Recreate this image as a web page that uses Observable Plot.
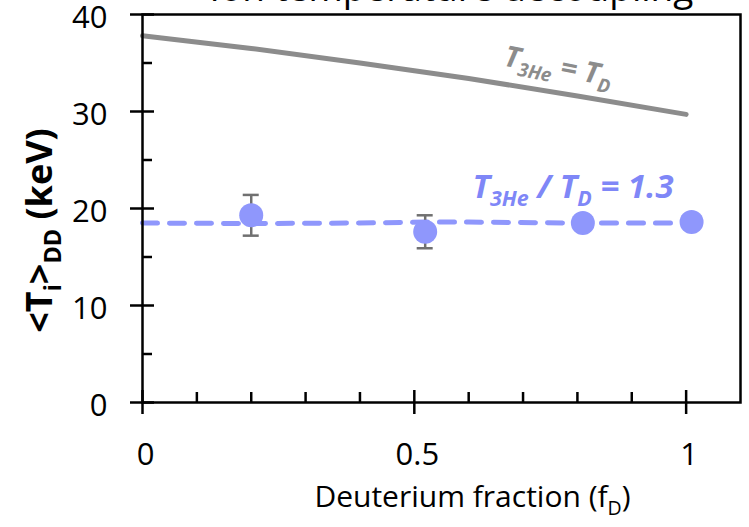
<!DOCTYPE html>
<html><head><meta charset="utf-8">
<script src="https://cdn.jsdelivr.net/npm/d3@7"></script>
<script src="https://cdn.jsdelivr.net/npm/@observablehq/plot@0.6"></script>
<style>html,body{margin:0;padding:0;background:#fff;overflow:hidden}</style>
</head><body><div id="chart"></div>
<script>
// Data
const fracGrid = [0, 0.2, 0.4, 0.5, 0.6, 0.8, 1.0];
const tiEqual = [37.8, 36.5, 35.0, 34.2, 33.4, 31.6, 29.7];      // T3He = TD curve
const fitFrac = [0, 0.2, 0.4, 0.52, 0.6, 0.81, 1.0];
const tiRatio = [18.5, 18.45, 18.5, 18.6, 18.6, 18.5, 18.5];     // T3He/TD = 1.3 curve
const measFrac = [0.2, 0.52, 0.81, 1.01];
const measTi = [19.3, 17.6, 18.5, 18.6];
const errLow = [17.2, 15.9, null, null];
const errHigh = [21.4, 19.3, null, null];
const xTicks = [0, 0.5, 1];
const xMinor = [0.1, 0.2, 0.3, 0.4, 0.6, 0.7, 0.8, 0.9];
const yTicks = [0, 10, 20, 30, 40];
const yMinor = [5, 15, 25, 35];
const titleText = "Ion temperature decoupling";
const xLabel = "Deuterium fraction (f_{D})";
const yLabel = "<T_{i}>_{DD} (keV)";
const labelEqual = "T_{3He} = T_{D}";
const labelRatio = "T_{3He} / T_{D} = 1.3";

const eqData = fracGrid.map((f, i) => ({f, t: tiEqual[i]}));
const ratioData = fitFrac.map((f, i) => ({f, t: tiRatio[i]}));
const meas = measFrac.map((f, i) => ({f, t: measTi[i], lo: errLow[i], hi: errHigh[i]}));
const errData = meas.filter(d => d.lo != null);

const blue = "#8f97fc";
const plot = Plot.plot({
  width: 749, height: 527,
  marginLeft: 142, marginRight: 9, marginTop: 14, marginBottom: 125,
  x: {domain: [0, 1.1], axis: null},
  y: {domain: [0, 40], axis: null},
  style: {fontFamily: "'Open Sans', sans-serif", background: "white", overflow: "visible", color: "black"},
  marks: [
    Plot.line(eqData, {x: "f", y: "t", stroke: "#8c8c8c", strokeWidth: 5}),
    Plot.line(ratioData, {x: "f", y: "t", stroke: blue, strokeWidth: 5, strokeDasharray: "15,12", strokeLinecap: "round"}),
    Plot.ruleX(errData, {x: "f", y1: "lo", y2: "hi", stroke: "#707070", strokeWidth: 2.5}),
    Plot.ruleY(errData, {y: "lo", x1: "f", x2: "f", insetLeft: -8, insetRight: -8, stroke: "#707070", strokeWidth: 2.5}),
    Plot.ruleY(errData, {y: "hi", x1: "f", x2: "f", insetLeft: -8, insetRight: -8, stroke: "#707070", strokeWidth: 2.5}),
    Plot.dot(meas, {x: "f", y: "t", r: 12, fill: blue, stroke: "none"}),
    Plot.frame({stroke: "black", strokeWidth: 2.5}),
    Plot.ruleX(xTicks, {x: d => d, y1: 0, y2: 0, insetTop: -12, insetBottom: -12, stroke: "black", strokeWidth: 2.5}),
    Plot.ruleX(xMinor, {x: d => d, y1: 0, y2: 0, insetTop: -10, insetBottom: 0, stroke: "black", strokeWidth: 2.5}),
    Plot.ruleY(yTicks, {y: d => d, x1: 0, x2: 0, insetLeft: -12, insetRight: -12, stroke: "black", strokeWidth: 2.5}),
    Plot.ruleY(yMinor, {y: d => d, x1: 0, x2: 0, insetLeft: 0, insetRight: -10, stroke: "black", strokeWidth: 2.5}),
    Plot.text(xTicks, {x: d => d, text: d => String(d), frameAnchor: "bottom", lineAnchor: "middle", dy: 53, dx: 3, fontSize: 31, fill: "black"}),
    Plot.text(yTicks, {y: d => d, text: d => String(d), frameAnchor: "left", textAnchor: "end", lineAnchor: "middle", dx: -35, dy: 3.5, fontSize: 31, fill: "black"}),
    Plot.text([xLabel], {frameAnchor: "bottom", textAnchor: "middle", lineAnchor: "middle", dx: 31, dy: 95, fontSize: 30, fill: "black"}),
    Plot.text([yLabel], {frameAnchor: "left", textAnchor: "middle", lineAnchor: "middle", rotate: -90, dx: -102, dy: 22, fontSize: 36, fontWeight: "bold", fill: "black"}),
    Plot.text([titleText], {frameAnchor: "top", textAnchor: "middle", lineAnchor: "middle", dx: 10, dy: -25, fontSize: 37, fill: "black"}),
    Plot.text([labelEqual], {x: 0.765, y: 34.6, text: d => d, rotate: 11, fontSize: 29, fontWeight: "bold", fontStyle: "italic", fill: "#8c8c8c"}),
    Plot.text([labelRatio], {x: 0.607, y: 22.2, text: d => d, textAnchor: "start", fontSize: 33, fontWeight: "bold", fontStyle: "italic", fill: "#7f87f7"})
  ]
});
document.getElementById("chart").appendChild(plot);

// Turn _{...} markers into subscript tspans
const NS = "http://www.w3.org/2000/svg";
plot.querySelectorAll("text").forEach(t => {
  const s = t.textContent;
  if (!s.includes("_{")) return;
  const fs = parseFloat(getComputedStyle(t).fontSize);
  const parts = s.split(/(_\{[^}]*\})/).filter(p => p.length);
  t.textContent = "";
  let shifted = false;
  parts.forEach(p => {
    const ts = document.createElementNS(NS, "tspan");
    if (p.startsWith("_{")) {
      ts.textContent = p.slice(2, -1);
      ts.setAttribute("font-size", (fs * 0.65) + "px");
      if (!shifted) ts.setAttribute("dy", fs * 0.25);
      shifted = true;
    } else {
      ts.textContent = p;
      if (shifted) { ts.setAttribute("dy", -fs * 0.25); shifted = false; }
    }
    t.appendChild(ts);
  });
});
</script>
</body></html>
